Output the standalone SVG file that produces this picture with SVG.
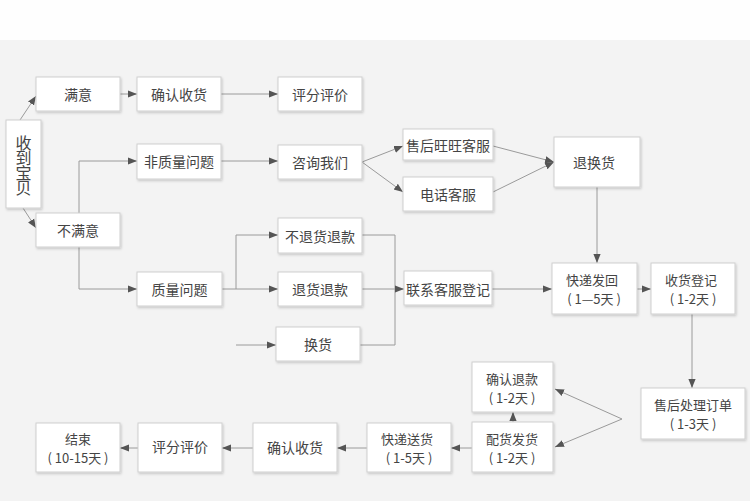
<svg xmlns="http://www.w3.org/2000/svg" width="750" height="501" viewBox="0 0 750 501">
<defs>
<marker id="arr" viewBox="0 0 10 10" refX="10" refY="5" markerWidth="9" markerHeight="9" markerUnits="userSpaceOnUse" orient="auto">
<path d="M0,1 L10,5 L0,9 z" fill="#555"/>
</marker>
<filter id="sh" x="-10%" y="-10%" width="130%" height="140%">
<feDropShadow dx="1" dy="1.5" stdDeviation="1" flood-color="#000" flood-opacity="0.18"/>
</filter>
</defs>
<style>
.box{fill:#fff;stroke:#cfcfcf;stroke-width:1;filter:url(#sh)}
.t{font-family:"Noto Sans CJK SC","Liberation Sans",sans-serif;font-size:14px;fill:#444;text-anchor:middle;dominant-baseline:central}
.s{font-size:13px}
.v{font-size:16px;writing-mode:vertical-rl;letter-spacing:-1px}
.c path{fill:none;stroke:#9a9a9a;stroke-width:1}
.c .a{marker-end:url(#arr)}
</style>
<rect x="0" y="0" width="750" height="501" fill="#f3f3f3"/>
<rect x="0" y="0" width="750" height="40" fill="#fefefe"/>

<g class="c" id="connectors">
<path class="a" d="M20,120 L36,96"/>
<path class="a" d="M23,208 L36,228"/>
<path class="a" d="M120,94 H137"/>
<path class="a" d="M221,94 H278"/>
<path class="a" d="M79,213 V161 H137"/>
<path class="a" d="M79,247 V289 H137"/>
<path class="a" d="M221,161 H278"/>
<path class="a" d="M362,162 L403,146"/>
<path class="a" d="M362,162 L403,192"/>
<path class="a" d="M493,146 L554,162"/>
<path class="a" d="M493,192 L554,162"/>
<path class="a" d="M222,289 H278"/>
<path class="a" d="M236,289 V235 H278"/>
<path class="a" d="M236,345 H276"/>
<path d="M362,235 H395 V345 M360,345 H395"/>
<path class="a" d="M362,289 H404"/>
<path class="a" d="M492,289 H552"/>
<path class="a" d="M597,187 V263"/>
<path class="a" d="M637,289 H651"/>
<path class="a" d="M692,314 V388"/>
<path class="a" d="M622,419 L555,389"/>
<path class="a" d="M622,419 L555,447"/>
<path class="a" d="M513,422 V412"/>
<path class="a" d="M472,448 H451"/>
<path class="a" d="M367,448 H337"/>
<path class="a" d="M253,448 H222"/>
<path class="a" d="M138,448 H120"/>
</g>

<g id="n1"><rect class="box" x="6" y="120" width="35" height="88"/>
<text class="t v" x="23.5" y="165">收到宝贝</text></g>
<g id="n2"><rect class="box" x="36" y="77" width="84" height="34"/><text class="t" x="78" y="94">满意</text></g>
<g id="n3"><rect class="box" x="137" y="77" width="84" height="34"/><text class="t" x="179" y="94">确认收货</text></g>
<g id="n4"><rect class="box" x="278" y="77" width="84" height="34"/><text class="t" x="320" y="94">评分评价</text></g>
<g id="n5"><rect class="box" x="137" y="144" width="84" height="35"/><text class="t" x="179" y="161">非质量问题</text></g>
<g id="n6"><rect class="box" x="278" y="145" width="84" height="34"/><text class="t" x="320" y="162">咨询我们</text></g>
<g id="n7"><rect class="box" x="36" y="213" width="84" height="34"/><text class="t" x="78" y="230">不满意</text></g>
<g id="n8"><rect class="box" x="137" y="272" width="85" height="34"/><text class="t" x="179.5" y="289">质量问题</text></g>
<g id="n9"><rect class="box" x="278" y="218" width="84" height="35"/><text class="t" x="320" y="235.5">不退货退款</text></g>
<g id="n10"><rect class="box" x="278" y="272" width="84" height="34"/><text class="t" x="320" y="289">退货退款</text></g>
<g id="n11"><rect class="box" x="276" y="327" width="84" height="34"/><text class="t" x="318" y="344">换货</text></g>
<g id="n12"><rect class="box" x="403" y="129" width="90" height="31"/><text class="t" x="448" y="145">售后旺旺客服</text></g>
<g id="n13"><rect class="box" x="403" y="177" width="90" height="34"/><text class="t" x="448" y="194">电话客服</text></g>
<g id="n14"><rect class="box" x="554" y="137" width="86" height="50"/><text class="t" x="594" y="162">退换货</text></g>
<g id="n15"><rect class="box" x="404" y="271" width="88" height="34"/><text class="t" x="448" y="289">联系客服登记</text></g>
<g id="n16"><rect class="box" x="552" y="263" width="85" height="51"/><text class="t s" y="279"><tspan x="592">快递发回</tspan><tspan x="594" dy="19">( 1—5天 )</tspan></text></g>
<g id="n17"><rect class="box" x="651" y="263" width="84" height="51"/><text class="t s" y="279"><tspan x="691">收货登记</tspan><tspan x="693" dy="19">( 1-2天 )</tspan></text></g>
<g id="n18"><rect class="box" x="641" y="388" width="104" height="51"/><text class="t s" y="404"><tspan x="693">售后处理订单</tspan><tspan x="693" dy="19">( 1-3天 )</tspan></text></g>
<g id="n19"><rect class="box" x="472" y="362" width="81" height="50"/><text class="t s" y="377.5"><tspan x="512">确认退款</tspan><tspan x="512" dy="19">( 1-2天 )</tspan></text></g>
<g id="n20"><rect class="box" x="472" y="422" width="81" height="50"/><text class="t s" y="437.5"><tspan x="512">配货发货</tspan><tspan x="512" dy="19">( 1-2天 )</tspan></text></g>
<g id="n21"><rect class="box" x="367" y="423" width="84" height="49"/><text class="t s" y="438"><tspan x="407">快递送货</tspan><tspan x="409" dy="19">( 1-5天 )</tspan></text></g>
<g id="n22"><rect class="box" x="253" y="423" width="84" height="49"/><text class="t" x="295" y="447">确认收货</text></g>
<g id="n23"><rect class="box" x="138" y="423" width="84" height="49"/><text class="t" x="180" y="446">评分评价</text></g>
<g id="n24"><rect class="box" x="36" y="423" width="84" height="49"/><text class="t s" y="438"><tspan x="78">结束</tspan><tspan x="78" dy="19">( 10-15天 )</tspan></text></g>
</svg>
